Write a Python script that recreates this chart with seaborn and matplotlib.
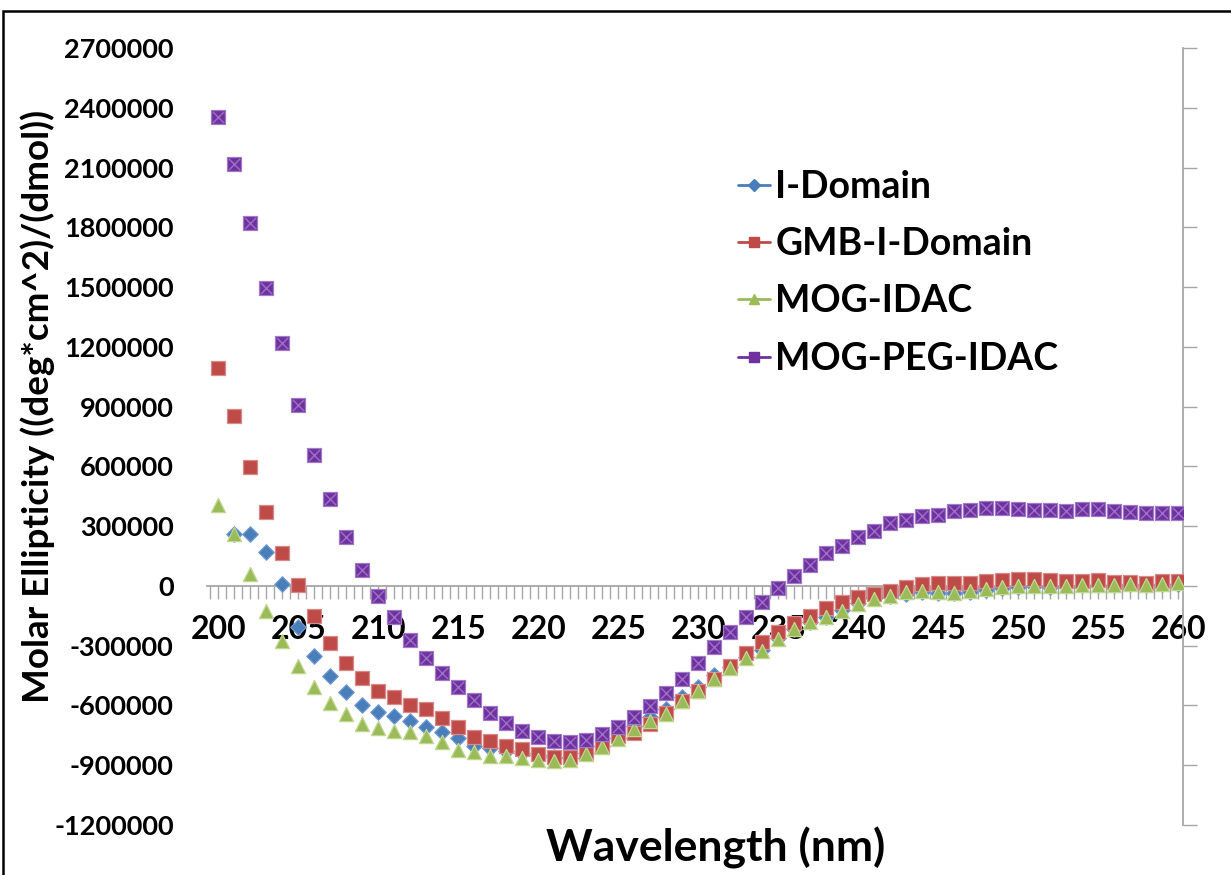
import numpy as np
import pandas as pd
import matplotlib
matplotlib.use("Agg")
import matplotlib.pyplot as plt
import seaborn as sns
from matplotlib.lines import Line2D
from matplotlib.patches import Rectangle
from matplotlib.ticker import MultipleLocator, FuncFormatter

# wavelength (nm) and molar ellipticity for each sample
wavelength = list(range(200, 261))

i_domain = [np.nan, 261000, 261000, 169000, 10000, -207000, -353000, -450000, -534000, -596000,
            -634000, -654000, -676000, -706000, -734000, -764000, -801000, -815000, -828000, -840000,
            -850000, -860000, -862000, -840000, -805000, -765000, -705000, -660000, -620000, -560000,
            -505000, -445000, -405000, -355000, -320000, -262000, -214000, -180000, -155000, -122000,
            -88000, -63000, -50000, -40000, -32000, -36000, -38000, -30000, -18000, -9000,
            -3000, 0, -3000, 0, 3000, 5000, 3000, 8000, 5000, 8000, 10000]

gmb_i_domain = [1093000, 855000, 596000, 373000, 164000, 5000, -152000, -286000, -388000, -462000,
                -525000, -559000, -596000, -617000, -663000, -709000, -760000, -776000, -801000, -818000,
                -843000, -857000, -860000, -840000, -801000, -755000, -740000, -693000, -639000, -576000,
                -525000, -467000, -400000, -338000, -283000, -232000, -186000, -149000, -112000, -79000,
                -57000, -40000, -27000, -5000, 10000, 15000, 13000, 15000, 23000, 28000,
                33000, 33000, 28000, 25000, 25000, 28000, 20000, 20000, 15000, 23000, 25000]

mog_idac = [407000, 261000, 60000, -124000, -274000, -400000, -509000, -587000, -642000, -693000,
            -714000, -729000, -734000, -751000, -785000, -822000, -832000, -852000, -855000, -865000,
            -873000, -880000, -872000, -843000, -806000, -768000, -718000, -676000, -642000, -576000,
            -525000, -467000, -413000, -363000, -325000, -266000, -216000, -182000, -157000, -124000,
            -90000, -65000, -53000, -32000, -27000, -32000, -35000, -27000, -15000, -7000,
            -2000, 2000, -2000, 2000, 5000, 7000, 5000, 10000, 7000, 10000, 13000]

mog_peg_idac = [2354000, 2118000, 1820000, 1496000, 1220000, 910000, 659000, 437000, 247000, 80000,
                -49000, -157000, -269000, -361000, -437000, -509000, -572000, -639000, -688000, -726000,
                -760000, -776000, -785000, -771000, -743000, -709000, -658000, -604000, -537000, -467000,
                -386000, -308000, -229000, -157000, -82000, -10000, 52000, 107000, 164000, 202000,
                247000, 278000, 314000, 333000, 349000, 358000, 375000, 381000, 391000, 391000,
                386000, 381000, 381000, 378000, 386000, 386000, 378000, 370000, 366000, 366000, 365000]

series = ["I-Domain", "GMB-I-Domain", "MOG-IDAC", "MOG-PEG-IDAC"]
values = [i_domain, gmb_i_domain, mog_idac, mog_peg_idac]
colors = ["#4A7EBB", "#BE4B48", "#9BBB59", "#7030A0"]
edges = ["#6F9AD0", "#D98A88", "#C0D890", "#A07CC8"]
markers = ["D", "s", "^", "s"]
sizes = [62, 95, 105, 100]

sns.set_theme(style="white")
plt.rcParams["font.family"] = ["Lato", "DejaVu Sans"]
plt.rcParams["font.weight"] = "bold"
plt.rcParams["text.color"] = "black"

fig = plt.figure(figsize=(12.31, 8.75), dpi=100)
ax = fig.add_axes([207 / 1231, 50 / 875, 976 / 1231, 777 / 875])

for name, vals, c, ec, m, s in zip(series, values, colors, edges, markers, sizes):
    df = pd.DataFrame({"wavelength": wavelength, "ellipticity": vals}).dropna()
    sns.scatterplot(data=df, x="wavelength", y="ellipticity", ax=ax, marker=m, s=s,
                    color=c, edgecolor=ec, linewidth=0.9, legend=False, zorder=3)
    if name == "MOG-PEG-IDAC":
        sns.scatterplot(data=df, x="wavelength", y="ellipticity", ax=ax, marker="x", s=64,
                        color="#9A72C4", linewidth=1.0, legend=False, zorder=4)

ax.set_xlim(199.3, 260.3)
ax.set_ylim(-1200000, 2700000)
ax.yaxis.set_major_locator(MultipleLocator(300000))
ax.yaxis.set_major_formatter(FuncFormatter(lambda v, p: f"{v:.0f}"))
ax.xaxis.set_major_locator(MultipleLocator(5))
ax.xaxis.set_minor_locator(MultipleLocator(0.5))

for side in ["top", "left"]:
    ax.spines[side].set_visible(False)
ax.spines["bottom"].set_position(("data", 0))
ax.spines["bottom"].set_color("#A6A6A6")
ax.spines["bottom"].set_linewidth(1.3)
ax.spines["right"].set_color("#A6A6A6")
ax.spines["right"].set_linewidth(1.3)

ax.tick_params(axis="x", which="both", direction="out", length=9, width=1, color="#A6A6A6",
               bottom=True, labelsize=23, pad=12, labelcolor="black")
ax.tick_params(axis="y", which="major", left=False, right=True, labelleft=True, labelright=False,
               direction="out", length=10, width=1, color="#A6A6A6", labelsize=19.5, pad=14,
               labelcolor="black")
for lab in ax.get_xticklabels() + ax.get_yticklabels():
    lab.set_fontweight("bold")
ax.set_xlabel("")
ax.set_ylabel("")
ax.grid(False)

fig.text(38 / 1231, 1 - 406 / 875, "Molar Ellipticity ((deg*cm^2)/(dmol))", rotation=90,
         ha="center", va="center", fontsize=26.5, fontweight="bold", color="black")
fig.text(716 / 1231, 1 - 848 / 875, "Wavelength (nm)", ha="center", va="center",
         fontsize=32, fontweight="bold", color="black")

handles = [Line2D([0], [0], color=c, marker=m, markersize=7 if m != "D" else 6,
                  markerfacecolor=c, markeredgecolor=c, linewidth=2)
           for c, m in zip(colors, markers)]
leg = fig.legend(handles, series, loc="upper left", bbox_to_anchor=(738 / 1231, 1 - 170 / 875),
                 frameon=False, fontsize=27, handlelength=0.85, handletextpad=0.15,
                 labelspacing=0.62, borderpad=0, borderaxespad=0)
for t in leg.get_texts():
    t.set_fontweight("bold")
    t.set_color("black")

fig.add_artist(Rectangle((3 / 1231, -0.05), 1.2, 1.05 - 11 / 875, transform=fig.transFigure,
                         fill=False, edgecolor="black", linewidth=1.8))

fig.savefig("out.png", dpi=100)
